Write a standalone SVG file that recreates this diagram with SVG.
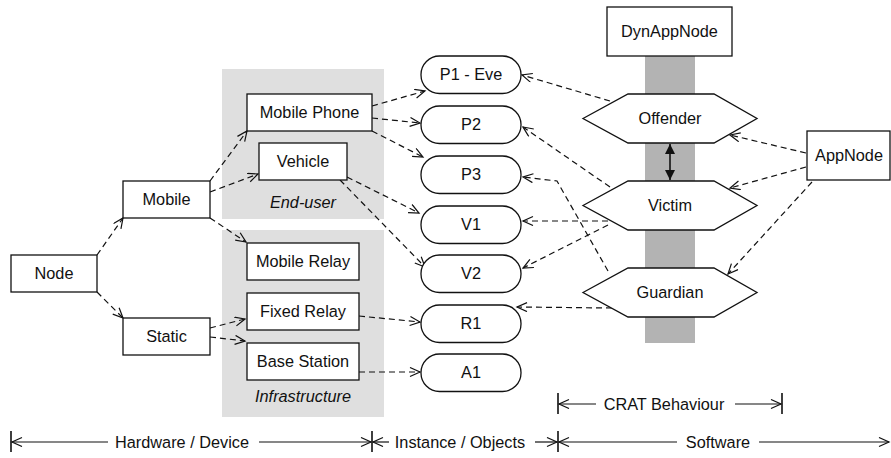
<svg xmlns="http://www.w3.org/2000/svg" width="891" height="458" viewBox="0 0 891 458">
  <defs>
    <style>
      text { font-family: "Liberation Sans", Arial, sans-serif; font-size: 16.3px; fill: #111; }
      .c { text-anchor: middle; }
      .it { font-style: italic; }
      .box { fill: #fff; stroke: #111; stroke-width: 1.3; }
      .area { fill: #dfdfdf; stroke: none; }
      .bar { fill: #b3b3b3; stroke: none; }
      .dash { fill: none; stroke: #111; stroke-width: 1.2; stroke-dasharray: 6 4; marker-end: url(#open); }
      .axis { fill: none; stroke: #111; stroke-width: 1.2; }
      .tick { fill: none; stroke: #111; stroke-width: 1.6; }
    </style>
    <marker id="open" markerUnits="userSpaceOnUse" markerWidth="14" markerHeight="12" refX="11" refY="5" orient="auto">
      <path d="M1,0.5 L11,5 L1,9.5" fill="none" stroke="#111" stroke-width="1.2"/>
    </marker>
    <marker id="solid" markerUnits="userSpaceOnUse" markerWidth="12" markerHeight="12" refX="10" refY="5" orient="auto">
      <path d="M0,0 L10,5 L0,10 Z" fill="#111"/>
    </marker>
  </defs>

  <!-- background groupings -->
  <rect class="area" x="222" y="69" width="162" height="150"/>
  <rect class="area" x="222" y="230" width="162" height="187"/>
  <rect class="bar" x="645" y="56" width="50" height="287"/>

  <!-- connectors -->
  <g id="connectors">
    <path class="dash" d="M97,255 L123,218"/>
    <path class="dash" d="M97,292 L123,318"/>
    <path class="dash" d="M210,181 L247,131"/>
    <path class="dash" d="M210,192 L258,174"/>
    <path class="dash" d="M210,218 L246,242"/>
    <path class="dash" d="M210,328 L245,319"/>
    <path class="dash" d="M210,337 L245,341"/>
    <path class="dash" d="M372,106 L425,91"/>
    <path class="dash" d="M372,118 L420,123"/>
    <path class="dash" d="M372,131 L423,157"/>
    <path class="dash" d="M347,177 L419,213"/>
    <path class="dash" d="M340,180 L425,267"/>
    <path class="dash" d="M359,316 L420,322"/>
    <path class="dash" d="M359,372 L420,372"/>
    <path class="dash" d="M610,101 L522,75"/>
    <path class="dash" d="M610,187 L523,127"/>
    <path class="dash" d="M608,271 L557,181 L523,177"/>
    <path class="dash" d="M608,221 L523,221"/>
    <path class="dash" d="M608,225 L523,268"/>
    <path class="dash" d="M612,308 L517,307"/>
    <path class="dash" d="M806,153 L730,135"/>
    <path class="dash" d="M806,167 L730,188"/>
    <path class="dash" d="M812,182 L728,274"/>
    <!-- offender / victim link -->
    <path d="M670,162 L670,144" fill="none" stroke="#111" stroke-width="1.6" marker-end="url(#solid)"/>
    <path d="M670,162 L670,180" fill="none" stroke="#111" stroke-width="1.6" marker-end="url(#solid)"/>
  </g>

  <!-- hardware nodes -->
  <g id="node"><rect class="box" x="11" y="255" width="86" height="37"/><text class="c" x="54" y="279">Node</text></g>
  <g id="mobile"><rect class="box" x="123" y="181" width="87" height="37"/><text class="c" x="166.5" y="205">Mobile</text></g>
  <g id="static"><rect class="box" x="123" y="318" width="87" height="37"/><text class="c" x="166.5" y="342">Static</text></g>
  <g id="mobile-phone"><rect class="box" x="247" y="94" width="125" height="37"/><text class="c" x="309.5" y="118">Mobile Phone</text></g>
  <g id="vehicle"><rect class="box" x="259" y="143" width="88" height="37"/><text class="c" x="303" y="167">Vehicle</text></g>
  <g id="mobile-relay"><rect class="box" x="247" y="243" width="112" height="37"/><text class="c" x="303" y="267">Mobile Relay</text></g>
  <g id="fixed-relay"><rect class="box" x="247" y="293" width="112" height="37"/><text class="c" x="303" y="317">Fixed Relay</text></g>
  <g id="base-station"><rect class="box" x="247" y="343" width="112" height="37"/><text class="c" x="303" y="367">Base Station</text></g>
  <text class="c it" x="303" y="208">End-user</text>
  <text class="c it" x="303" y="402">Infrastructure</text>

  <!-- instances -->
  <g id="p1"><rect class="box" x="421" y="56" width="100" height="37.5" rx="18.5"/><text class="c" x="471" y="80">P1 - Eve</text></g>
  <g id="p2"><rect class="box" x="421" y="106" width="100" height="37.5" rx="18.5"/><text class="c" x="471" y="130">P2</text></g>
  <g id="p3"><rect class="box" x="421" y="156" width="100" height="37.5" rx="18.5"/><text class="c" x="471" y="180">P3</text></g>
  <g id="v1"><rect class="box" x="421" y="206" width="100" height="37.5" rx="18.5"/><text class="c" x="471" y="230">V1</text></g>
  <g id="v2"><rect class="box" x="421" y="255" width="100" height="37.5" rx="18.5"/><text class="c" x="471" y="279">V2</text></g>
  <g id="r1"><rect class="box" x="421" y="305" width="100" height="37.5" rx="18.5"/><text class="c" x="471" y="329">R1</text></g>
  <g id="a1"><rect class="box" x="421" y="354" width="100" height="37.5" rx="18.5"/><text class="c" x="471" y="378">A1</text></g>

  <!-- software -->
  <g id="dynappnode"><rect class="box" x="607" y="7" width="125" height="49"/><text class="c" x="669.5" y="37">DynAppNode</text></g>
  <g id="appnode"><rect class="box" x="807" y="131" width="83" height="49"/><text class="c" x="849" y="161">AppNode</text></g>
  <g id="offender"><polygon class="box" points="583,118.5 628,94 714,94 757,118.5 714,143 628,143"/><text class="c" x="670" y="124">Offender</text></g>
  <g id="victim"><polygon class="box" points="583,205.5 628,181 714,181 757,205.5 714,230 628,230"/><text class="c" x="670" y="211">Victim</text></g>
  <g id="guardian"><polygon class="box" points="583,292.5 628,268 714,268 757,292.5 714,317 628,317"/><text class="c" x="670" y="298">Guardian</text></g>

  <!-- scale bars -->
  <g id="crat-span">
    <path class="tick" d="M558,393 L558,414 M782,393 L782,414"/>
    <path class="axis" d="M596,404 L559,404" marker-end="url(#open)"/>
    <path class="axis" d="M735,404 L781,404" marker-end="url(#open)"/>
    <text class="c" x="664" y="410">CRAT Behaviour</text>
  </g>
  <g id="layer-spans">
    <path class="tick" d="M11,431 L11,452 M372,431 L372,452 M558,431 L558,452"/>
    <path class="axis" d="M108,442 L12,442" marker-end="url(#open)"/>
    <path class="axis" d="M259,442 L371,442" marker-end="url(#open)"/>
    <text class="c" x="182" y="448">Hardware / Device</text>
    <path class="axis" d="M389,442 L373,442" marker-end="url(#open)"/>
    <path class="axis" d="M535,442 L557,442" marker-end="url(#open)"/>
    <text class="c" x="460" y="448">Instance / Objects</text>
    <path class="axis" d="M677,442 L559,442" marker-end="url(#open)"/>
    <path class="axis" d="M759,442 L889,442" marker-end="url(#open)"/>
    <text class="c" x="718" y="448">Software</text>
  </g>
</svg>
